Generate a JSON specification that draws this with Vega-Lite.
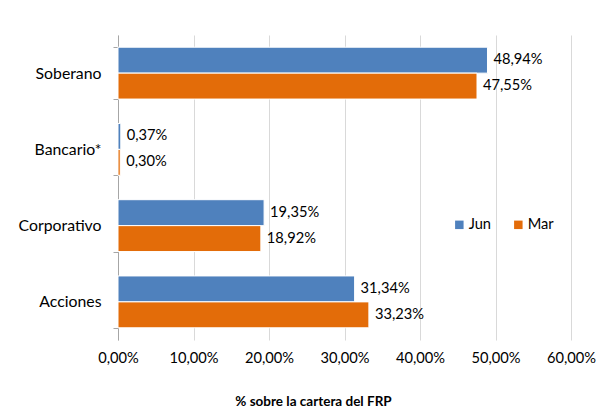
{
  "$schema": "https://vega.github.io/schema/vega-lite/v6.json",
  "autosize": {"type": "none"},
  "padding": {"left": 118, "top": 35, "right": 35, "bottom": 71},
  "width": 453,
  "height": 305,
  "background": "white",
  "config": {
    "locale": {"number": {"decimal": ",", "thousands": ".", "grouping": [3], "currency": ["", " €"]}},
    "view": {"stroke": null},
    "font": "Lato"
  },
  "data": {
    "values": [
      {"cat": "Soberano", "serie": "Jun", "v": 0.4894},
      {"cat": "Soberano", "serie": "Mar", "v": 0.4755},
      {"cat": "Bancario*", "serie": "Jun", "v": 0.0037},
      {"cat": "Bancario*", "serie": "Mar", "v": 0.0030},
      {"cat": "Corporativo", "serie": "Jun", "v": 0.1935},
      {"cat": "Corporativo", "serie": "Mar", "v": 0.1892},
      {"cat": "Acciones", "serie": "Jun", "v": 0.3134},
      {"cat": "Acciones", "serie": "Mar", "v": 0.3323}
    ]
  },
  "encoding": {
    "y": {
      "field": "cat", "type": "nominal",
      "sort": ["Soberano", "Bancario*", "Corporativo", "Acciones"],
      "scale": {"paddingInner": 0.32, "paddingOuter": 0.16},
      "axis": {
        "title": null, "tickBand": "extent", "domainColor": "#a6a6a6", "tickColor": "#a6a6a6",
        "tickSize": 5, "labelFontSize": 15.8, "labelColor": "#000000", "labelPadding": 12, "grid": false
      }
    },
    "yOffset": {"field": "serie", "type": "nominal", "sort": ["Jun", "Mar"]},
    "x": {
      "field": "v", "type": "quantitative",
      "scale": {"domain": [0, 0.6]},
      "axis": {
        "values": [0, 0.1, 0.2, 0.3, 0.4, 0.5, 0.6], "format": ".2%",
        "domain": false, "ticks": false, "gridColor": "#d9d9d9",
        "labelFlush": false, "labelAlign": "center",
        "labelFontSize": 14.67, "labelColor": "#000000", "labelPadding": 10,
        "title": "% sobre la cartera del FRP", "titleFontSize": 13.5, "titleFontWeight": "bold",
        "titleColor": "#000000", "titleX": 195, "titleY": 61, "titleBaseline": "middle"
      }
    }
  },
  "layer": [
    {
      "mark": {"type": "bar", "stroke": "white", "strokeWidth": 1},
      "encoding": {
        "color": {
          "field": "serie", "type": "nominal", "sort": ["Jun", "Mar"],
          "scale": {"domain": ["Jun", "Mar"], "range": ["#4f81bd", "#e36c09"]},
          "legend": {
            "title": null, "orient": "none", "legendX": 334, "legendY": 182,
            "direction": "horizontal", "symbolType": "square", "symbolSize": 72,
            "labelFontSize": 14.67, "labelColor": "#000000", "columnPadding": 19, "symbolStrokeWidth": 0,
            "labelOffset": 2
          }
        }
      }
    },
    {
      "mark": {"type": "text", "align": "left", "baseline": "middle", "dx": 6, "fontSize": 14.67, "color": "#000000"},
      "encoding": {"text": {"field": "v", "type": "quantitative", "format": ".2%"}}
    }
  ]
}
